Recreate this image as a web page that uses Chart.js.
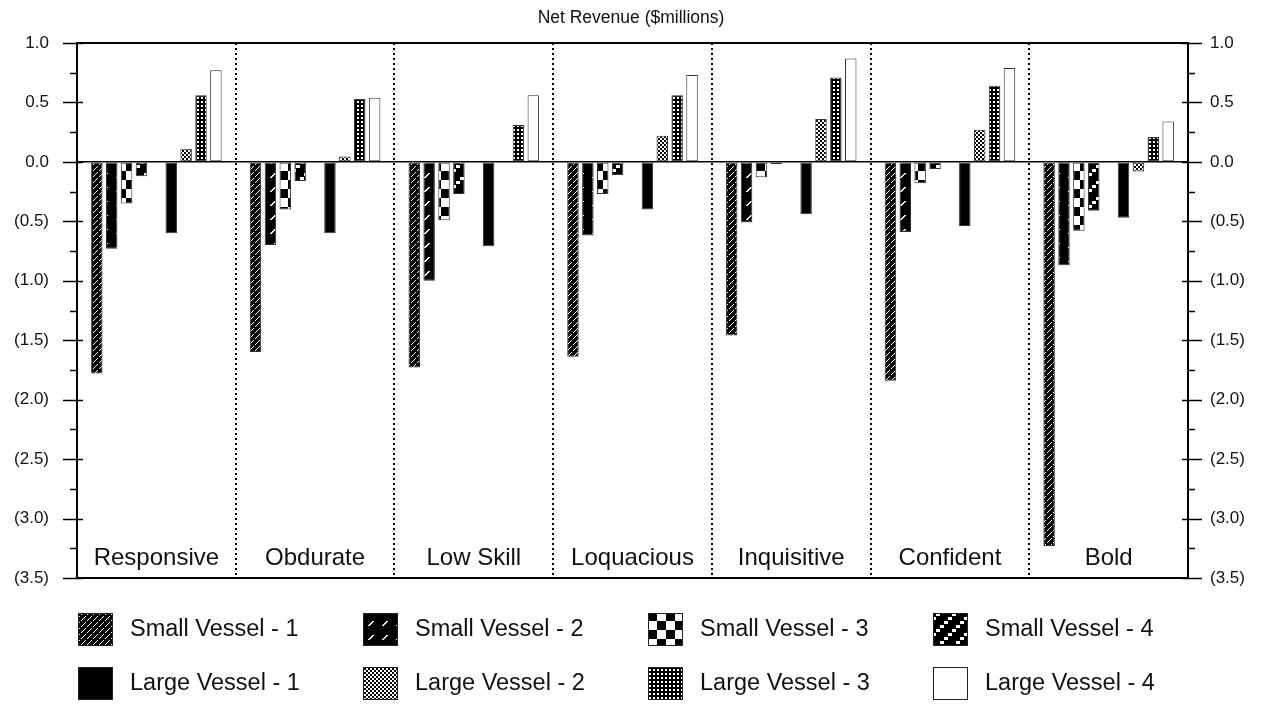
<!DOCTYPE html>
<html>
<head>
<meta charset="utf-8">
<script src="https://cdn.jsdelivr.net/npm/chart.js@4.4.1/dist/chart.umd.min.js"></script>
<style>
  html, body { margin: 0; padding: 0; background: #fff; }
</style>
</head>
<body>
<canvas id="out" width="1262" height="704"></canvas>
<script>
const categories = ['Responsive', 'Obdurate', 'Low Skill', 'Loquacious', 'Inquisitive', 'Confident', 'Bold'];

const smallVessel1 = [-1.78, -1.60, -1.73, -1.64, -1.46, -1.84, -3.23];
const smallVessel2 = [-0.73, -0.70, -1.00, -0.62, -0.51, -0.59, -0.87];
const smallVessel3 = [-0.35, -0.40, -0.49, -0.27, -0.13, -0.18, -0.58];
const smallVessel4 = [-0.12, -0.16, -0.27, -0.11, -0.02, -0.06, -0.41];
const largeVessel1 = [-0.60, -0.60, -0.71, -0.40, -0.44, -0.54, -0.47];
const largeVessel2 = [0.11, 0.045, 0.0, 0.22, 0.36, 0.27, -0.08];
const largeVessel3 = [0.56, 0.53, 0.31, 0.56, 0.71, 0.64, 0.21];
const largeVessel4 = [0.77, 0.54, 0.56, 0.73, 0.87, 0.79, 0.34];

const seriesNames = [
  'Small Vessel - 1', 'Small Vessel - 2', 'Small Vessel - 3', 'Small Vessel - 4',
  'Large Vessel - 1', 'Large Vessel - 2', 'Large Vessel - 3', 'Large Vessel - 4'
];

const yTickValues = [1.0, 0.5, 0.0, -0.5, -1.0, -1.5, -2.0, -2.5, -3.0, -3.5];
const yTickLabels = ['1.0', '0.5', '0.0', '(0.5)', '(1.0)', '(1.5)', '(2.0)', '(2.5)', '(3.0)', '(3.5)'];

const FONT = "'Liberation Sans', Arial, sans-serif";

// small tiles used as fill patterns
function makePattern(size, paint) {
  const c = document.createElement('canvas');
  c.width = size;
  c.height = size;
  const g = c.getContext('2d');
  paint(g, size);
  return g.createPattern(c, 'repeat');
}

const patterns = [
  makePattern(6, (g, n) => {          // dense diagonal
    g.fillStyle = '#000'; g.fillRect(0, 0, n, n);
    g.fillStyle = '#fff';
    for (let i = 0; i < n; i++) {
      if (i !== 2) g.fillRect(i, n - 1 - i, 1, 1);
    }
  }),
  makePattern(14, (g, n) => {         // sparse diagonal dashes
    g.fillStyle = '#000'; g.fillRect(0, 0, n, n);
    g.fillStyle = '#fff';
    for (let k = 4; k <= 8; k++) g.fillRect(k, n - 1 - k, 2, 1);
  }),
  makePattern(18, (g, n) => {         // big checker
    g.fillStyle = '#fff'; g.fillRect(0, 0, n, n);
    g.fillStyle = '#000';
    g.fillRect(0, 0, n / 2, n / 2);
    g.fillRect(n / 2, n / 2, n / 2, n / 2);
  }),
  makePattern(16, (g, n) => {         // diagonal blocks
    g.fillStyle = '#000'; g.fillRect(0, 0, n, n);
    g.fillStyle = '#fff';
    for (let i = 0; i < 4; i++) g.fillRect(i * 4, 13 - i * 4, 4, 3);
  }),
  '#000',
  makePattern(4, (g, n) => {          // fine checker
    g.fillStyle = '#fff'; g.fillRect(0, 0, n, n);
    g.fillStyle = '#000';
    g.fillRect(0, 0, 2, 2);
    g.fillRect(2, 2, 2, 2);
  }),
  makePattern(4, (g, n) => {          // grid
    g.fillStyle = '#000'; g.fillRect(0, 0, n, n);
    g.fillStyle = '#fff';
    g.fillRect(1, 1, 2, 2);
  }),
  '#fff'
];

const seriesData = [smallVessel1, smallVessel2, smallVessel3, smallVessel4,
  largeVessel1, largeVessel2, largeVessel3, largeVessel4];

const datasets = [];
seriesData.forEach((data, i) => {
  if (i === 4) {
    // empty slot between small and large vessels
    datasets.push({ label: '', data: categories.map(() => null), spacer: true });
  }
  datasets.push({
    label: seriesNames[i],
    data: data,
    backgroundColor: patterns[i],
    borderColor: '#333',
    borderWidth: 1,
    borderSkipped: false
  });
});

function isMajor(v) {
  return Math.abs(v * 2 - Math.round(v * 2)) < 1e-6;
}

function tickLabel(v) {
  const idx = yTickValues.findIndex(t => Math.abs(t - v) < 1e-6);
  return idx >= 0 ? yTickLabels[idx] : '';
}

const decorations = {
  id: 'decorations',
  afterDraw(chart) {
    const { ctx, chartArea } = chart;
    ctx.save();
    ctx.strokeStyle = '#000';

    // top frame line
    ctx.lineWidth = 2;
    ctx.beginPath();
    ctx.moveTo(chartArea.left, chartArea.top);
    ctx.lineTo(chartArea.right, chartArea.top);
    ctx.stroke();

    // tick marks on both value axes
    ctx.lineWidth = 1.5;
    ['y', 'y2'].forEach(id => {
      const scale = chart.scales[id];
      const left = id === 'y';
      const ax = left ? chartArea.left : chartArea.right;
      scale.ticks.forEach(t => {
        const py = Math.round(scale.getPixelForValue(t.value)) + 0.5;
        const major = isMajor(t.value);
        const out = major ? 14 : 7;
        const inn = major ? 6 : 0;
        ctx.beginPath();
        if (left) {
          ctx.moveTo(ax - out, py);
          ctx.lineTo(ax + inn, py);
        } else {
          ctx.moveTo(ax - inn, py);
          ctx.lineTo(ax + out, py);
        }
        ctx.stroke();
      });
    });

    // category names inside the plot
    const xs = chart.scales.x;
    ctx.fillStyle = '#111';
    ctx.font = '24px ' + FONT;
    ctx.textAlign = 'center';
    ctx.textBaseline = 'alphabetic';
    categories.forEach((c, i) => {
      ctx.fillText(c, xs.getPixelForValue(i), chartArea.bottom - 13);
    });

    // legend grid, 4 columns x 2 rows
    const items = chart.data.datasets.filter(d => !d.spacer);
    ctx.font = '23.5px ' + FONT;
    ctx.textAlign = 'left';
    ctx.textBaseline = 'middle';
    items.forEach((d, i) => {
      const col = i % 4;
      const row = Math.floor(i / 4);
      const bx = 78 + col * 285;
      const by = chartArea.bottom + 35 + row * 54;
      ctx.fillStyle = d.backgroundColor;
      ctx.fillRect(bx, by, 35, 33);
      ctx.lineWidth = 1;
      ctx.strokeStyle = '#222';
      ctx.strokeRect(bx + 0.5, by + 0.5, 34, 32);
      ctx.fillStyle = '#111';
      ctx.fillText(d.label, bx + 52, by + 17);
    });

    ctx.restore();
  }
};

const canvasCtx = document.getElementById('out').getContext('2d');

const chartConfig = {
  type: 'bar',
  data: { labels: categories, datasets: datasets },
  options: {
    responsive: false,
    animation: false,
    categoryPercentage: 0.844,
    barPercentage: 0.77,
    layout: { padding: { top: 0, left: 0, right: 0, bottom: 126 } },
    plugins: {
      legend: { display: false },
      tooltip: { enabled: false },
      title: {
        display: true,
        text: 'Net Revenue ($millions)',
        color: '#111',
        font: { family: FONT, size: 17.5, weight: 'normal' },
        padding: { top: 8, bottom: 14 }
      }
    },
    scales: {
      x: {
        offset: true,
        afterFit(scale) { scale.height = 0; },
        ticks: { display: false },
        grid: {
          offset: true,
          drawTicks: false,
          color: '#000',
          lineWidth: 2
        },
        border: { display: true, color: '#000', width: 2, dash: [2, 3] }
      },
      y: {
        position: 'left',
        min: -3.5,
        max: 1.0,
        afterFit(scale) { scale.width = 77; },
        ticks: {
          stepSize: 0.25,
          autoSkip: false,
          padding: 28,
          color: '#111',
          font: { family: FONT, size: 17 },
          callback: (v) => tickLabel(v)
        },
        grid: {
          drawTicks: false,
          lineWidth: 1.5,
          color: (c) => (c.tick && Math.abs(c.tick.value) < 1e-9 ? '#000' : 'rgba(0,0,0,0)')
        },
        border: { display: true, color: '#000', width: 2 }
      },
      y2: {
        position: 'right',
        min: -3.5,
        max: 1.0,
        afterFit(scale) { scale.width = 74; },
        ticks: {
          stepSize: 0.25,
          autoSkip: false,
          padding: 22,
          color: '#111',
          font: { family: FONT, size: 17 },
          callback: (v) => tickLabel(v)
        },
        grid: { display: false, drawTicks: false },
        border: { display: true, color: '#000', width: 2 }
      }
    }
  },
  plugins: [decorations]
};

window.chart = new Chart(canvasCtx, chartConfig);
</script>
</body>
</html>
